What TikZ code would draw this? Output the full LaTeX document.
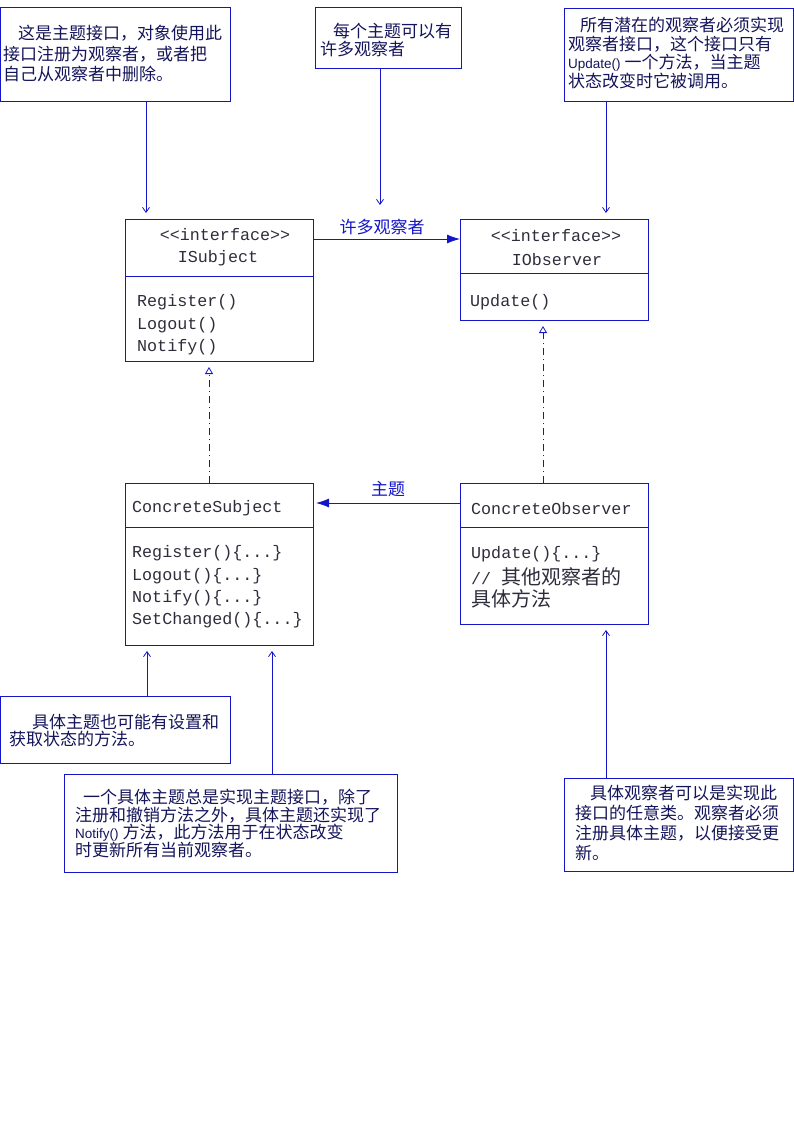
\documentclass[tikz,border=0pt]{standalone}
\usepackage{fontspec}
\setmonofont{Liberation Mono}
\newfontfamily\cjk{Noto Sans CJK SC}
\newfontfamily\lat{Liberation Sans}
\usetikzlibrary{arrows.meta}
\definecolor{ln}{RGB}{20,20,200}
\definecolor{nt}{RGB}{20,20,90}
\definecolor{ct}{RGB}{45,45,60}
\begin{document}
\begin{tikzpicture}[x=1pt,y=-1pt,
 box/.style={draw=ln,line width=0.8pt,rectangle,inner sep=0pt,outer sep=0pt,anchor=north west},
 note/.style={inner sep=0pt,anchor=north west,align=left,text=nt},
 cls/.style={inner sep=0pt,anchor=west,text=ct,font=\ttfamily\fontsize{16.7}{20}\selectfont},
 clsc/.style={inner sep=0pt,anchor=center,text=ct,font=\ttfamily\fontsize{16.7}{20}\selectfont},
 lbl/.style={inner sep=0pt,text=ln,font=\cjk\fontsize{17}{19}\selectfont},
 con/.style={draw=ln,line width=0.8pt},
 assoc/.style={con,-{Latex[length=13pt,width=9pt]}},
 real/.style={con,dash pattern=on 7pt off 4pt on 1pt off 4pt,-{Triangle[open,length=7pt,width=8pt]},shorten >=6pt},
 annot/.style={con,-{Straight Barb[length=5pt,width=7pt]},shorten >=6pt}
]
\path[use as bounding box] (0,0) rectangle (794,1123);

% boxes
\node[box,minimum width=229.5pt,minimum height=94pt] (n1) at (0.5,7) {};
\node[box,minimum width=146pt,minimum height=61pt] (n2) at (315,7) {};
\node[box,minimum width=229.5pt,minimum height=93pt] (n3) at (564,8) {};
\node[box,minimum width=188pt,minimum height=142pt] (isub) at (125,219) {};
\node[box,minimum width=188pt,minimum height=101pt] (iobs) at (460,219) {};
\node[box,minimum width=188pt,minimum height=162pt] (csub) at (125,483) {};
\node[box,minimum width=188pt,minimum height=141pt] (cobs) at (460,483) {};
\node[box,minimum width=229.5pt,minimum height=67pt] (n4) at (0.5,696) {};
\node[box,minimum width=333pt,minimum height=98pt] (n5) at (64,774) {};
\node[box,minimum width=229.5pt,minimum height=93pt] (n6) at (564,778) {};

% dividers
\coordinate (d1) at (0,276);
\coordinate (d2) at (0,273);
\coordinate (d3) at (0,527);
\draw[con] (isub.west |- d1) -- (isub.east |- d1);
\draw[con] (iobs.west |- d2) -- (iobs.east |- d2);
\draw[con] (csub.west |- d3) -- (csub.east |- d3);
\draw[con] (cobs.west |- d3) -- (cobs.east |- d3);

% note texts
\node[note,font=\cjk\fontsize{17}{20.5}\selectfont] (tx1) at (3,25)
 {\hspace*{15pt}这是主题接口，对象使用此\\接口注册为观察者，或者把\\自己从观察者中删除。};
\node[note,font=\cjk\fontsize{17}{17.5}\selectfont] (tx2) at (320,23)
 {\hspace*{13pt}每个主题可以有\\许多观察者};
\node[note,font=\cjk\fontsize{17}{18.5}\selectfont] (tx3) at (568,17)
 {\hspace*{12pt}所有潜在的观察者必须实现\\观察者接口，这个接口只有\\{\lat\fontsize{13.5}{18.5}\selectfont Update()} 一个方法，当主题\\状态改变时它被调用。};
\node[note,font=\cjk\fontsize{17}{17}\selectfont] (tx4) at (9,714)
 {\hspace*{23pt}具体主题也可能有设置和\\获取状态的方法。};
\node[note,font=\cjk\fontsize{17}{17.5}\selectfont] (tx5) at (75,789)
 {\hspace*{8pt}一个具体主题总是实现主题接口，除了\\注册和撤销方法之外，具体主题还实现了\\{\lat\fontsize{13.5}{17.5}\selectfont Notify()} 方法，此方法用于在状态改变\\时更新所有当前观察者。};
\node[note,font=\cjk\fontsize{17}{20}\selectfont] (tx6) at (575,785)
 {\hspace*{15pt}具体观察者可以是实现此\\接口的任意类。观察者必须\\注册具体主题，以便接受更\\新。};

% class texts
\node[clsc] (is1) at (225,235) {<<interface>>};
\node[clsc] (is2) at (218,258) {ISubject};
\node[cls] (is3) at (137,302) {Register()};
\node[cls] (is4) at (137,325) {Logout()};
\node[cls] (is5) at (137,347) {Notify()};

\node[clsc] (io1) at (556,236) {<<interface>>};
\node[clsc] (io2) at (557,260) {IObserver};
\node[cls] (io3) at (470,302) {Update()};

\node[cls] (cs1) at (132,508) {ConcreteSubject};
\node[cls] (cs2) at (132,553) {Register()\{...\}};
\node[cls] (cs3) at (132,576) {Logout()\{...\}};
\node[cls] (cs4) at (132,598) {Notify()\{...\}};
\node[cls] (cs5) at (132,620) {SetChanged()\{...\}};

\node[cls] (co1) at (471,509) {ConcreteObserver};
\node[cls] (co2) at (471,554) {Update()\{...\}};
\node[cls] (co3) at (471,577) {// {\cjk\fontsize{20}{22}\selectfont 其他观察者的}};
\node[cls,font=\cjk\fontsize{20}{22}\selectfont] (co4) at (471,599) {具体方法};

% associations
\coordinate (a1) at (0,239);
\coordinate (a2) at (0,503);
\draw[assoc] (isub.east |- a1) -- (iobs.west |- a1);
\draw[assoc,shorten >=3pt] (cobs.west |- a2) -- (csub.east |- a2);
\node[lbl] (l1) at (382,227) {许多观察者};
\node[lbl] (l2) at (388,489) {主题};

% realizations
\coordinate (r1) at (209,0);
\coordinate (r2) at (543,0);
\draw[real] (csub.north -| r1) -- (isub.south -| r1);
\draw[real] (cobs.north -| r2) -- (iobs.south -| r2);

% annotation arrows
\coordinate (t1) at (146,0);
\coordinate (t2) at (380,211);
\coordinate (t3) at (606,0);
\coordinate (t4) at (147,0);
\coordinate (t5) at (272,0);
\draw[annot] (n1.south -| t1) -- (isub.north -| t1);
\draw[annot] (n2.south -| t2) -- (t2);
\draw[annot] (n3.south -| t3) -- (iobs.north -| t3);
\draw[annot] (n4.north -| t4) -- (csub.south -| t4);
\draw[annot] (n5.north -| t5) -- (csub.south -| t5);
\draw[annot] (n6.north -| t3) -- (cobs.south -| t3);
\end{tikzpicture}
\end{document}
